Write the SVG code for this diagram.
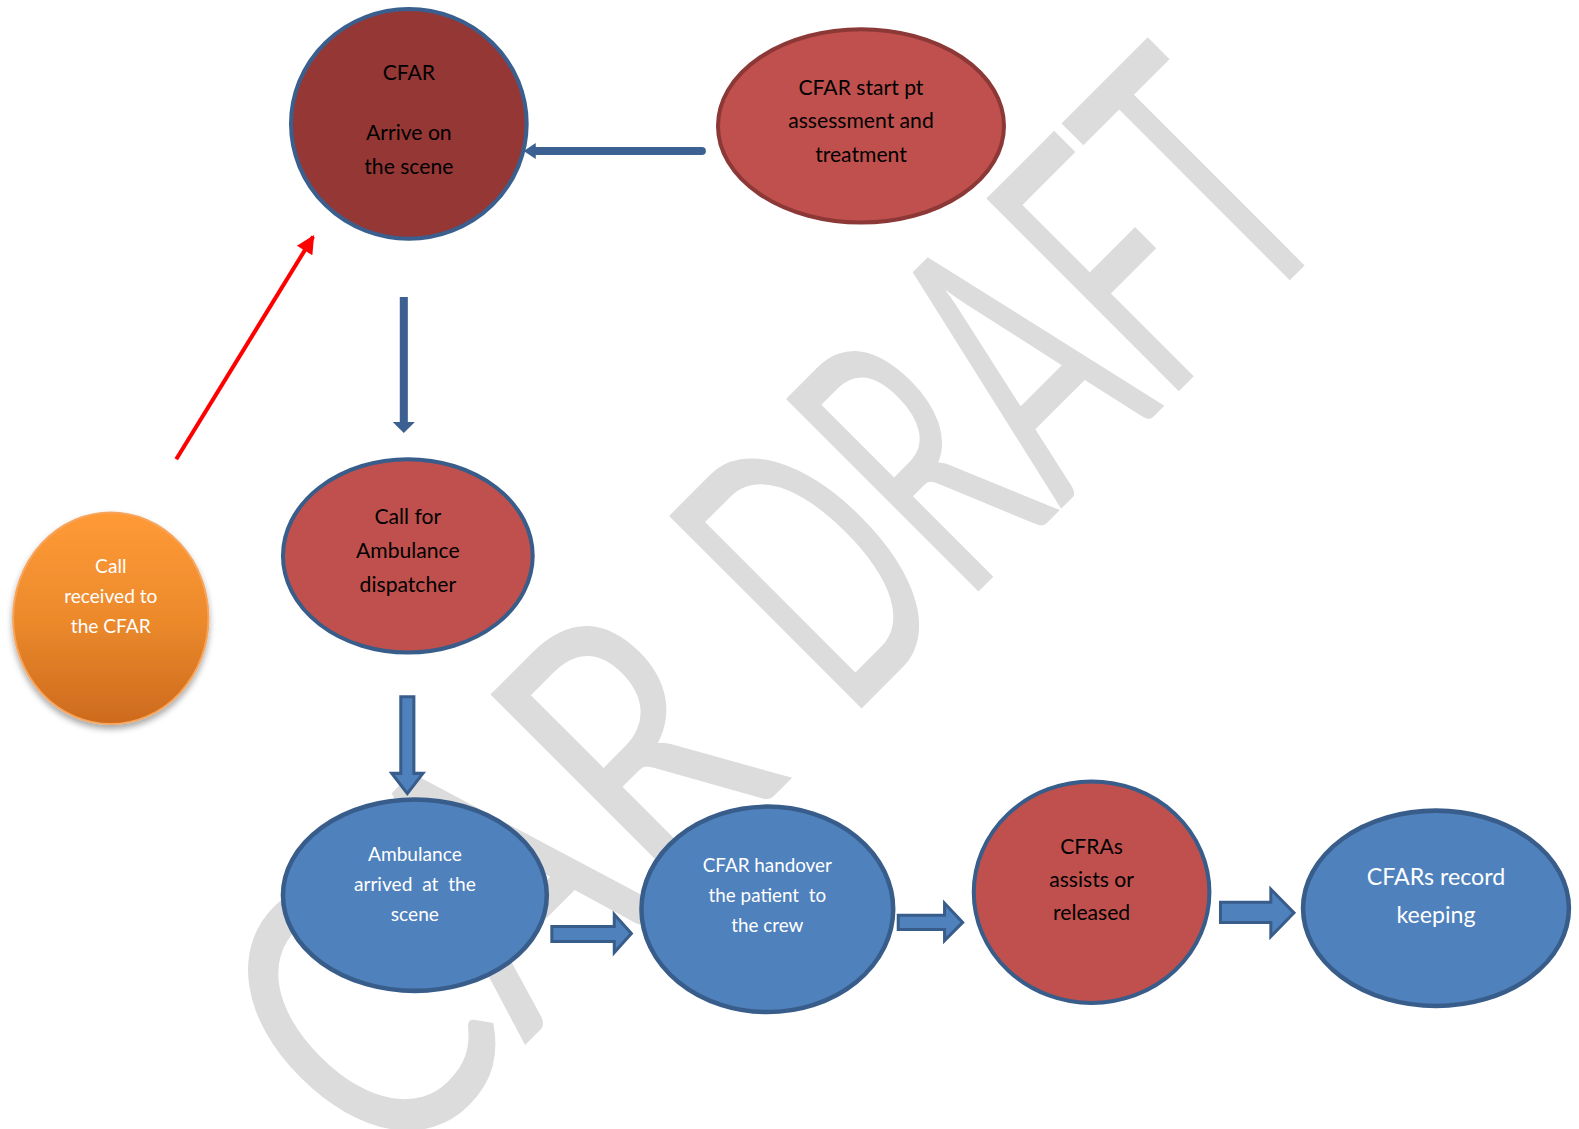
<svg xmlns="http://www.w3.org/2000/svg" width="1579" height="1129" viewBox="0 0 1579 1129">
<style>
.t{font-family:Lato,"Open Sans","Liberation Sans",sans-serif;text-anchor:middle;white-space:pre}
.dk{fill:#000}
.wt{fill:#fff}
.wm{font-family:Lato,"Liberation Sans",sans-serif;font-weight:400;font-size:380px;text-anchor:middle;fill:#dcdcdc}
.red{fill:#c0504d;stroke:#385d8a;stroke-width:4}
.blue{fill:#4f81bd;stroke:#385d8a;stroke-width:4.5}
.blk{fill:#4f81bd;stroke:#385d8a;stroke-width:3;stroke-linejoin:miter}
</style>
<defs>
<linearGradient id="og" x1="0" y1="0" x2="0" y2="1">
<stop offset="0" stop-color="#ff9a36"/>
<stop offset="0.5" stop-color="#ec8a2c"/>
<stop offset="1" stop-color="#cd6a1e"/>
</linearGradient>
<filter id="sh" x="-20%" y="-20%" width="140%" height="150%">
<feDropShadow dx="0" dy="4" stdDeviation="3" flood-color="#000" flood-opacity="0.35"/>
</filter>
<marker id="rh" viewBox="0 0 10 10" refX="9" refY="5" markerWidth="5" markerHeight="4.5" orient="auto" markerUnits="strokeWidth">
<path d="M0,0 L10,5 L0,10 Z" fill="#ff0000"/>
</marker>
</defs>
<rect width="1579" height="1129" fill="#fff"/>
<g id="watermark">
<text class="wm" transform="translate(590,980) rotate(-45)" x="0" y="0" textLength="575" lengthAdjust="spacingAndGlyphs">CAR</text>
<text class="wm" transform="translate(1095,475) rotate(-45)" x="0" y="0" textLength="700" lengthAdjust="spacingAndGlyphs">DRAFT</text>
</g>
<g transform="scale(1.007)">
<g id="connectors">
<path d="M697,150 L530,150" stroke="#3c6091" stroke-width="8" stroke-linecap="round" fill="none"/>
<path d="M532,142 L520,150 L532,158 Z" fill="#3c6091"/>
<path d="M401,295 L401,420" stroke="#3c6091" stroke-width="8" fill="none"/>
<path d="M390,419 L412,419 L401,430 Z" fill="#3c6091"/>
<path d="M175,456 L311,235" stroke="#ff0000" stroke-width="4" fill="none" marker-end="url(#rh)"/>
<path class="blk" d="M398,692 L411,692 L411,768 L420,768 L404.5,788 L389,768 L398,768 Z"/>
<path class="blk" d="M548,920 L610,920 L610,908 L627,927 L610,946 L610,935 L548,935 Z"/>
<path class="blk" d="M892,909 L938,909 L938,897 L956,916 L938,934 L938,923 L892,923 Z"/>
<path class="blk" d="M1212,896 L1262,896 L1262,883 L1285,906.5 L1262,930 L1262,916 L1212,916 Z"/>
</g>
<g id="n1">
<ellipse cx="406" cy="123" rx="117" ry="114" fill="#953735" stroke="#3a5f8e" stroke-width="4"/>
<text class="t dk" font-size="21" x="406" y="79">CFAR</text>
<text class="t dk" font-size="21" x="406" y="139">Arrive on</text>
<text class="t dk" font-size="21" x="406" y="173">the scene</text>
</g>
<g id="n2">
<ellipse cx="855" cy="125" rx="142" ry="96" fill="#c0504d" stroke="#8b3836" stroke-width="4"/>
<text class="t dk" font-size="21" x="855" y="94">CFAR start pt</text>
<text class="t dk" font-size="21" x="855" y="127">assessment and</text>
<text class="t dk" font-size="21" x="855" y="161">treatment</text>
</g>
<g id="n3">
<ellipse class="red" cx="405" cy="552" rx="124" ry="96"/>
<text class="t dk" font-size="21" x="405" y="520">Call for</text>
<text class="t dk" font-size="21" x="405" y="554">Ambulance</text>
<text class="t dk" font-size="21" x="405" y="588">dispatcher</text>
</g>
<g id="n8">
<ellipse cx="110" cy="614" rx="97" ry="105" fill="url(#og)" stroke="#f7a45c" stroke-width="2" filter="url(#sh)"/>
<text class="t wt" font-size="19" x="110" y="569">Call</text>
<text class="t wt" font-size="19" x="110" y="599">received to</text>
<text class="t wt" font-size="19" x="110" y="629">the CFAR</text>
</g>
<g id="n4">
<ellipse class="blue" cx="412" cy="889" rx="131" ry="95"/>
<text class="t wt" font-size="19" x="412" y="855">Ambulance</text>
<text class="t wt" font-size="19" x="412" y="885">arrived  at  the</text>
<text class="t wt" font-size="19" x="412" y="915">scene</text>
</g>
<g id="n5">
<ellipse class="blue" cx="762" cy="903" rx="125" ry="102"/>
<text class="t wt" font-size="18.7" x="762" y="866">CFAR handover</text>
<text class="t wt" font-size="18.7" x="762" y="896">the patient  to</text>
<text class="t wt" font-size="18.7" x="762" y="926">the crew</text>
</g>
<g id="n6">
<ellipse class="red" cx="1084" cy="886" rx="117" ry="110"/>
<text class="t dk" font-size="21" x="1084" y="848">CFRAs</text>
<text class="t dk" font-size="21" x="1084" y="881">assists or</text>
<text class="t dk" font-size="21" x="1084" y="914">released</text>
</g>
<g id="n7">
<ellipse class="blue" cx="1426" cy="902" rx="132" ry="97"/>
<text class="t wt" font-size="23" x="1426" y="879">CFARs record</text>
<text class="t wt" font-size="23" x="1426" y="917">keeping</text>
</g>
</g>
</svg>
